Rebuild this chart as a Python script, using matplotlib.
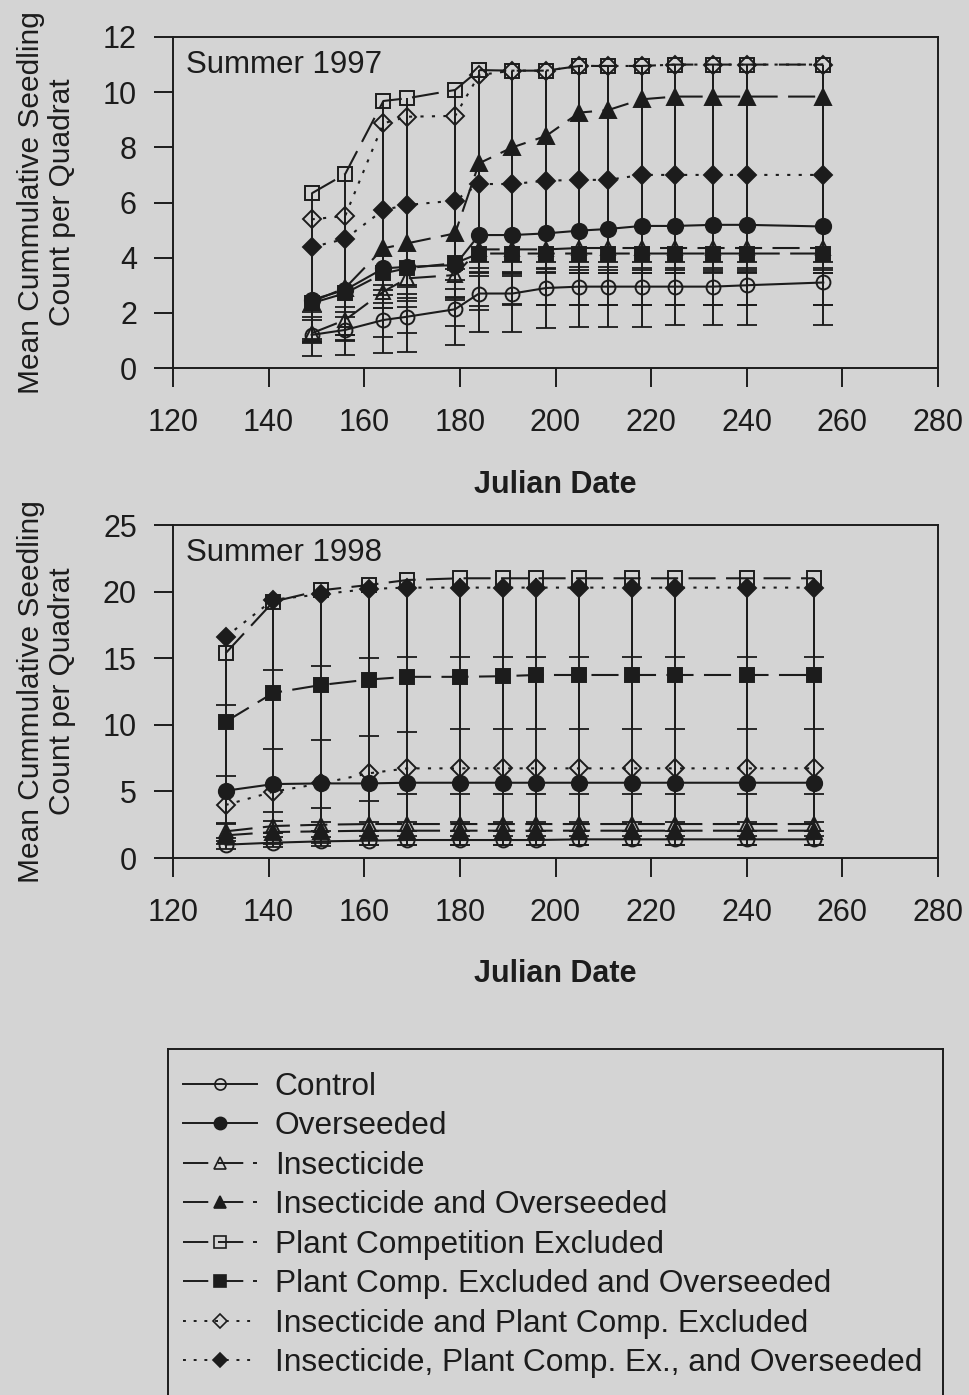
import numpy as np
import matplotlib.pyplot as plt
from matplotlib.lines import Line2D

plt.rcParams['font.family'] = ['Liberation Sans', 'DejaVu Sans']

ink = '#1c1c1c'
paper = '#d4d4d4'

# sampling dates (Julian day)
days97 = [149, 156, 164, 169, 179, 184, 191, 198, 205, 211, 218, 225, 233, 240, 256]
days98 = [131, 141, 151, 161, 169, 180, 189, 196, 205, 216, 225, 240, 254]

# summer 1997 means
control97 = [1.2, 1.38, 1.74, 1.86, 2.13, 2.7, 2.7, 2.9, 2.95, 2.95, 2.95, 2.95, 2.95, 3.0, 3.1]
overseed97 = [2.47, 2.83, 3.61, 3.67, 3.73, 4.82, 4.82, 4.88, 4.98, 5.04, 5.15, 5.15, 5.19, 5.19, 5.13]
insect97 = [1.26, 1.74, 2.77, 3.25, 3.37, 4.3, 4.3, 4.3, 4.35, 4.35, 4.35, 4.35, 4.35, 4.35, 4.35]
insect_os97 = [2.4, 2.9, 4.34, 4.52, 4.88, 7.42, 8.0, 8.41, 9.26, 9.35, 9.74, 9.84, 9.84, 9.84, 9.84]
pce97 = [6.33, 7.03, 9.68, 9.78, 10.08, 10.8, 10.78, 10.78, 10.95, 10.95, 10.95, 11.0, 11.0, 11.0, 11.0]
pce_os97 = [2.35, 2.71, 3.43, 3.62, 3.8, 4.15, 4.15, 4.15, 4.15, 4.15, 4.15, 4.15, 4.15, 4.15, 4.15]
insect_pce97 = [5.39, 5.51, 8.87, 9.11, 9.14, 10.62, 10.78, 10.78, 10.95, 10.95, 10.95, 11.0, 11.0, 11.0, 11.0]
insect_pce_os97 = [4.38, 4.68, 5.73, 5.91, 6.07, 6.67, 6.67, 6.79, 6.82, 6.82, 7.0, 7.0, 7.0, 7.0, 7.0]

# summer 1997 standard errors
control97_se = [0.3, 0.35, 0.6, 0.6, 0.6, 0.45, 0.4, 0.6, 0.65, 0.65, 0.65, 0.65, 0.65, 0.7, 0.8]
overseed97_se = [0.73, 0.79, 0.96, 0.97, 1.15, 1.5, 1.5, 1.45, 1.55, 1.6, 1.7, 1.7, 1.72, 1.72, 1.68]
insect97_se = [0.2, 0.55, 0.6, 0.7, 0.5, 0.45, 0.45, 0.45, 0.5, 0.5, 0.5, 0.5, 0.5, 0.5, 0.5]
insect_os97_se = [0.36, 0.7, 1.5, 1.6, 1.3, 3.8, 4.6, 4.8, 5.6, 5.7, 6.1, 6.2, 6.2, 6.2, 6.2]
pce97_se = [5.89, 6.56, 9.15, 9.19, 9.25, 9.48, 9.46, 9.34, 9.45, 9.45, 9.45, 9.45, 9.45, 9.45, 9.45]
pce_os97_se = [0.49, 0.85, 1.08, 1.2, 1.33, 0.72, 0.7, 0.55, 0.72, 0.72, 0.72, 0.72, 0.72, 0.72, 0.72]
insect_pce97_se = [4.4, 4.3, 6.7, 6.9, 6.6, 8.5, 8.45, 8.5, 8.65, 8.65, 8.65, 8.7, 8.7, 8.7, 8.7]
insect_pce_os97_se = [3.43, 3.7, 2.73, 2.9, 2.88, 3.2, 3.2, 3.3, 3.27, 3.27, 3.45, 3.45, 3.45, 3.45, 3.45]

# summer 1998 means
control98 = [1.0, 1.15, 1.25, 1.3, 1.35, 1.35, 1.35, 1.35, 1.4, 1.4, 1.4, 1.4, 1.4]
overseed98 = [5.05, 5.55, 5.6, 5.6, 5.65, 5.65, 5.65, 5.65, 5.65, 5.65, 5.65, 5.65, 5.65]
insect98 = [2.0, 2.4, 2.5, 2.55, 2.55, 2.55, 2.55, 2.55, 2.55, 2.55, 2.55, 2.55, 2.55]
insect_os98 = [1.7, 1.95, 2.0, 2.05, 2.05, 2.05, 2.05, 2.05, 2.05, 2.05, 2.05, 2.05, 2.05]
pce98 = [15.37, 19.25, 20.1, 20.5, 20.87, 21.0, 21.0, 21.0, 21.0, 21.0, 21.0, 21.0, 21.0]
pce_os98 = [10.23, 12.4, 12.99, 13.4, 13.6, 13.6, 13.65, 13.74, 13.74, 13.74, 13.74, 13.74, 13.74]
insect_pce98 = [3.98, 4.98, 5.6, 6.36, 6.73, 6.73, 6.73, 6.73, 6.73, 6.73, 6.73, 6.73, 6.73]
insect_pce_os98 = [16.6, 19.4, 19.8, 20.2, 20.3, 20.3, 20.3, 20.3, 20.3, 20.3, 20.3, 20.3, 20.3]

# summer 1998 standard errors
control98_se = [0.3, 0.3, 0.35, 0.35, 0.4, 0.4, 0.4, 0.4, 0.4, 0.4, 0.4, 0.4, 0.4]
overseed98_se = [2.4, 2.8, 2.9, 2.9, 2.95, 2.95, 2.95, 2.95, 2.95, 2.95, 2.95, 2.95, 2.95]
insect98_se = [0.5, 0.5, 0.5, 0.5, 0.5, 0.5, 0.5, 0.5, 0.5, 0.5, 0.5, 0.5, 0.5]
insect_os98_se = [0.4, 0.4, 0.4, 0.4, 0.4, 0.4, 0.4, 0.4, 0.4, 0.4, 0.4, 0.4, 0.4]
pce98_se = [14.3, 18.2, 19.0, 19.5, 19.9, 20.0, 20.0, 20.0, 20.05, 20.05, 20.05, 20.05, 20.05]
pce_os98_se = [4.07, 4.2, 4.1, 4.24, 4.12, 3.94, 3.99, 4.08, 4.08, 4.08, 4.08, 4.08, 4.08]
insect_pce98_se = [1.4, 1.5, 1.88, 2.08, 1.93, 1.93, 1.93, 1.93, 1.93, 1.93, 1.93, 1.93, 1.93]
insect_pce_os98_se = [5.1, 5.3, 5.4, 5.15, 5.2, 5.2, 5.2, 5.2, 5.2, 5.2, 5.2, 5.2, 5.2]

labels = ['Control', 'Overseeded', 'Insecticide', 'Insecticide and Overseeded',
          'Plant Competition Excluded', 'Plant Comp. Excluded and Overseeded',
          'Insecticide and Plant Comp. Excluded',
          'Insecticide, Plant Comp. Ex., and Overseeded']

solid = '-'
dashed = (0, (13, 5))
dotted = (0, (1.5, 4))
# marker, filled, linestyle, marker size
styles = [('o', False, solid, 10), ('o', True, solid, 11),
          ('^', False, dashed, 10), ('^', True, dashed, 11),
          ('s', False, dashed, 10), ('s', True, dashed, 10.5),
          ('D', False, dotted, 9), ('D', True, dotted, 9.5)]

means97 = [control97, overseed97, insect97, insect_os97, pce97, pce_os97, insect_pce97, insect_pce_os97]
errs97 = [control97_se, overseed97_se, insect97_se, insect_os97_se, pce97_se, pce_os97_se,
          insect_pce97_se, insect_pce_os97_se]
means98 = [control98, overseed98, insect98, insect_os98, pce98, pce_os98, insect_pce98, insect_pce_os98]
errs98 = [control98_se, overseed98_se, insect98_se, insect_os98_se, pce98_se, pce_os98_se,
          insect_pce98_se, insect_pce_os98_se]

W, H = 969, 1395
fig = plt.figure(figsize=(W / 100, H / 100), dpi=100, facecolor=paper)
ax1 = fig.add_axes([173 / W, 1 - 368 / H, 765 / W, 331 / H])
ax2 = fig.add_axes([173 / W, 1 - 858 / H, 765 / W, 333 / H])


def draw_panel(ax, days, means, errs):
    x = np.array(days)
    for (marker, filled, ls, ms), m, e in zip(styles, means, errs):
        y = np.array(m)
        lo = y - np.array(e)
        # one-sided (lower) error bars
        ax.vlines(x, lo, y, color=ink, lw=1.4, zorder=2)
        ax.plot(x, lo, ls='none', marker='_', ms=14.5, mew=1.3, color=ink, zorder=2)
        ax.plot(x, y, color=ink, lw=1.5, ls=ls, marker=marker, ms=ms,
                mfc=ink if filled else 'none', mec=ink, mew=1.4, zorder=3)


draw_panel(ax1, days97, means97, errs97)
draw_panel(ax2, days98, means98, errs98)

ax1.set_ylim(0, 12)
ax1.set_yticks(range(0, 13, 2))
ax2.set_ylim(0, 25)
ax2.set_yticks(range(0, 26, 5))

for ax, title, xl in ((ax1, 'Summer 1997', -102 / 331), (ax2, 'Summer 1998', -101 / 333)):
    ax.set_facecolor('none')
    ax.set_xlim(120, 280)
    ax.set_xticks(range(120, 281, 20))
    ax.tick_params(direction='out', length=14, width=1.4, labelsize=22, colors=ink)
    ax.tick_params(axis='x', pad=14.5)
    ax.tick_params(axis='y', pad=12)
    for s in ax.spines.values():
        s.set_linewidth(1.4)
        s.set_color(ink)
    ax.set_xlabel('Julian Date', fontsize=22, fontweight='bold', color=ink, va='top')
    ax.xaxis.set_label_coords(0.5, xl)
    ax.set_ylabel('Mean Cummulative Seedling\nCount per Quadrat', fontsize=21.5,
                  color=ink, linespacing=1.15)
    ax.yaxis.set_label_coords(-0.127, 0.5)
    ax.text(0.017, 0.962, title, transform=ax.transAxes, fontsize=22.5, color=ink,
            ha='left', va='top')

# legend box, open at the bottom of the page
axl = fig.add_axes([168 / W, -0.02, 775 / W, (H - 1049) / H + 0.02])
axl.set_facecolor('none')
axl.set_xticks([])
axl.set_yticks([])
for s in axl.spines.values():
    s.set_linewidth(1.4)
    s.set_color(ink)

handles = [Line2D([], [], color=ink, lw=1.4, ls=ls, marker=marker, ms=ms * 0.8,
                  mfc=ink if filled else 'none', mec=ink, mew=1.2)
           for marker, filled, ls, ms in styles]
axl.legend(handles, labels, loc='upper left', bbox_to_anchor=(0.019, 0.939),
           frameon=False, fontsize=22.8, handlelength=2.34, handletextpad=0.57,
           labelspacing=0.3, borderpad=0, borderaxespad=0, numpoints=1,
           labelcolor=ink)

fig.savefig('out.png', dpi=100, facecolor=paper)
